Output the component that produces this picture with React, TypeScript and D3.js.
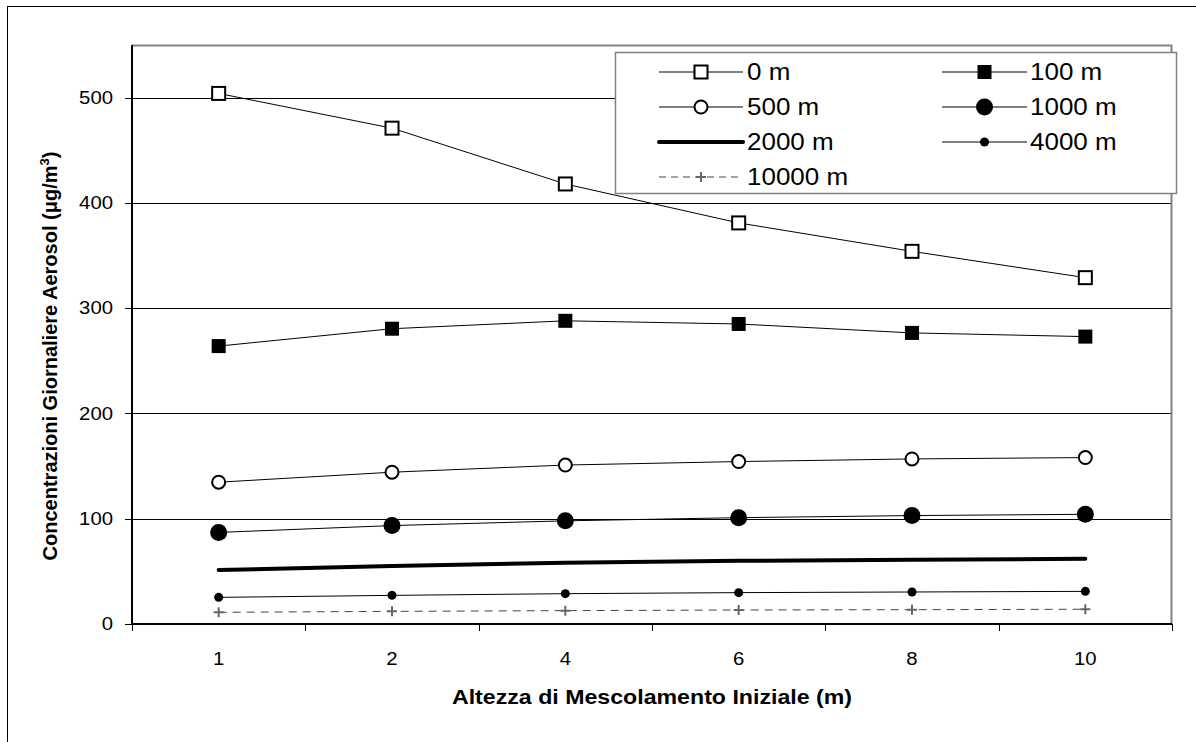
import React from 'react';
import * as d3 from 'd3';

const categories = ['1', '2', '4', '6', '8', '10'];
const yTicks = [0, 100, 200, 300, 400, 500];

const s0 = [504, 471, 418, 381, 354, 329];
const s100 = [264, 280.5, 288, 285, 276.5, 273];
const s500 = [134.7, 144.2, 151, 154.3, 156.8, 158.1];
const s1000 = [87, 93.5, 98, 101, 103, 104.2];
const s2000 = [51.3, 55, 58.3, 60, 61, 62];
const s4000 = [25.3, 27.2, 28.8, 29.8, 30.4, 31];
const s10000 = [11.1, 12, 12.7, 13.3, 13.6, 14];

const seriesNames = ['0 m', '100 m', '500 m', '1000 m', '2000 m', '4000 m', '10000 m'];

const W = 1196;
const H = 742;
const margin = { left: 132, right: 24, top: 45, bottom: 118 };
const font = 'Liberation Sans, Arial, Helvetica, sans-serif';
// the source picture is a bit wider than tall, so horizontal text is stretched
const STRETCH = 1.13;

type Marker = 'openSquare' | 'square' | 'openCircle' | 'circle' | 'none' | 'dot' | 'plus';

function MarkerShape({ type, x, y }: { type: Marker; x: number; y: number }) {
  switch (type) {
    case 'openSquare':
      return <rect x={x - 6.5} y={y - 6.5} width={13} height={13} fill="#fff" stroke="#000" strokeWidth={2} />;
    case 'square':
      return <rect x={x - 7} y={y - 7} width={14} height={14} fill="#000" />;
    case 'openCircle':
      return <circle cx={x} cy={y} r={6.5} fill="#fff" stroke="#000" strokeWidth={2} />;
    case 'circle':
      return <circle cx={x} cy={y} r={8.5} fill="#000" />;
    case 'dot':
      return <circle cx={x} cy={y} r={4.5} fill="#000" />;
    case 'plus':
      return (
        <path d={`M${x - 5},${y}H${x + 5}M${x},${y - 5}V${y + 5}`} stroke="#666" strokeWidth={2} />
      );
    default:
      return null;
  }
}

function HText({
  x,
  y,
  anchor = 'start',
  size,
  bold,
  children,
}: {
  x: number;
  y: number;
  anchor?: 'start' | 'middle' | 'end';
  size: number;
  bold?: boolean;
  children: React.ReactNode;
}) {
  return (
    <text
      transform={`translate(${x},${y}) scale(${STRETCH},1)`}
      dy="0.35em"
      textAnchor={anchor}
      fontSize={size}
      fontWeight={bold ? 'bold' : 'normal'}
    >
      {children}
    </text>
  );
}

export default function App() {
  const x = d3
    .scaleBand<string>()
    .domain(categories)
    .range([margin.left, W - margin.right])
    .padding(0);
  const y = d3.scaleLinear().domain([0, 550]).range([H - margin.bottom, margin.top]);
  const cx = (c: string) => (x(c) as number) + x.bandwidth() / 2;

  const series: { values: number[]; marker: Marker; width: number; color: string; dash?: string }[] = [
    { values: s0, marker: 'openSquare', width: 1, color: '#000' },
    { values: s100, marker: 'square', width: 1, color: '#000' },
    { values: s500, marker: 'openCircle', width: 1, color: '#000' },
    { values: s1000, marker: 'circle', width: 1, color: '#000' },
    { values: s2000, marker: 'none', width: 4, color: '#000' },
    { values: s4000, marker: 'dot', width: 1, color: '#000' },
    { values: s10000, marker: 'plus', width: 1, color: '#444', dash: '8,6' },
  ];

  const line = d3
    .line<number>()
    .x((_, i) => cx(categories[i]))
    .y((d) => y(d));

  const x0 = margin.left;
  const x1 = W - margin.right;
  const yb = y(0);
  const yt = margin.top;

  // legend layout
  const lg = { x: 615, y: 52, w: 561, h: 141 };
  const rowY = (r: number) => 72 + r * 35;
  const cols = [
    { lx0: 659, lx1: 743, tx: 747 },
    { lx0: 942, lx1: 1027, tx: 1030 },
  ];

  return (
    <svg
      width={W}
      height={H}
      style={{ position: 'absolute', left: 0, top: 0, display: 'block', background: '#fff' }}
      fontFamily={font}
    >
      <rect x={7.5} y={6.5} width={W} height={H} fill="#fff" stroke="#000" strokeWidth={1} />

      {/* gridlines */}
      {yTicks.slice(1).map((t) => (
        <line key={t} x1={x0} x2={x1} y1={Math.round(y(t)) + 0.5} y2={Math.round(y(t)) + 0.5} stroke="#000" strokeWidth={1} />
      ))}

      {/* plot border */}
      <path d={`M${x0},${yt + 0.5}H${x1 - 0.5}V${yb}`} fill="none" stroke="#808080" strokeWidth={2} />

      {/* y axis */}
      <line x1={x0} x2={x0} y1={yt} y2={yb} stroke="#000" strokeWidth={2} />
      {yTicks.map((t) => (
        <g key={t}>
          <line x1={x0 - 7} x2={x0} y1={Math.round(y(t)) + 0.5} y2={Math.round(y(t)) + 0.5} stroke="#000" />
          <HText x={x0 - 19} y={y(t)} anchor="end" size={18}>
            {t}
          </HText>
        </g>
      ))}

      {/* x axis */}
      <line x1={x0} x2={x1} y1={yb} y2={yb} stroke="#000" strokeWidth={2} />
      {[...categories.map((c) => x(c) as number), x1].map((p, i) => (
        <line key={i} x1={Math.round(p) + 0.5} x2={Math.round(p) + 0.5} y1={yb} y2={yb + 7} stroke="#000" />
      ))}
      {categories.map((c) => (
        <HText key={c} x={cx(c)} y={yb + 35} anchor="middle" size={18}>
          {c}
        </HText>
      ))}

      {/* series */}
      {series.map((s, i) => (
        <g key={i}>
          <path
            d={line(s.values) as string}
            fill="none"
            stroke={s.color}
            strokeWidth={s.width}
            strokeDasharray={s.dash}
            strokeLinecap={s.width > 2 ? 'round' : 'butt'}
          />
          {s.values.map((v, j) => (
            <MarkerShape key={j} type={s.marker} x={cx(categories[j])} y={y(v)} />
          ))}
        </g>
      ))}

      {/* axis titles */}
      <HText x={(x0 + x1) / 2} y={697} anchor="middle" size={20.5} bold>
        Altezza di Mescolamento Iniziale (m)
      </HText>
      <text
        transform={`translate(50,356) rotate(-90)`}
        dy="0.35em"
        textAnchor="middle"
        fontSize={20}
        fontWeight="bold"
      >
        Concentrazioni Giornaliere Aerosol (μg/m<tspan dy="-8" fontSize={13}>3</tspan>
        <tspan dy="8">)</tspan>
      </text>

      {/* legend */}
      <rect x={lg.x + 0.5} y={lg.y + 0.5} width={lg.w} height={lg.h} fill="#fff" stroke="#808080" strokeWidth={1.5} />
      {series.map((s, i) => {
        const col = cols[i % 2];
        const r = Math.floor(i / 2);
        const yy = rowY(r);
        const mx = (col.lx0 + col.lx1) / 2;
        return (
          <g key={i}>
            <line
              x1={col.lx0}
              x2={col.lx1}
              y1={yy}
              y2={yy}
              stroke={s.color}
              strokeWidth={s.width}
              strokeDasharray={s.dash ? '7,5' : undefined}
              strokeLinecap={s.width > 2 ? 'round' : 'butt'}
            />
            <MarkerShape type={s.marker} x={mx} y={yy} />
            <HText x={col.tx} y={yy} size={23}>
              {seriesNames[i]}
            </HText>
          </g>
        );
      })}
    </svg>
  );
}
